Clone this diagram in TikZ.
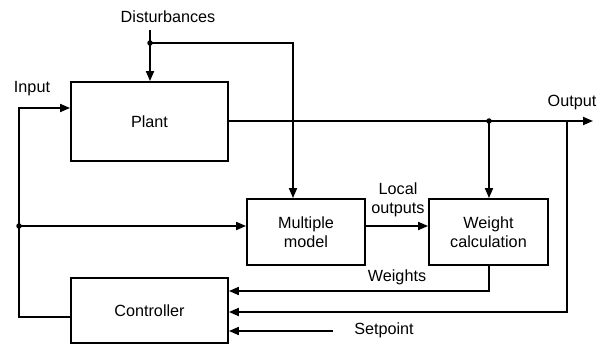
\documentclass[tikz,border=0pt]{standalone}
\usepackage{fontspec}
\setmainfont{Liberation Sans}
\usetikzlibrary{arrows.meta}
\begin{document}
\begin{tikzpicture}[x=1pt,y=-1pt,
  every node/.style={font=\fontsize{16.2}{19.5}\selectfont},
  blk/.style={draw,line width=1.8pt,inner sep=0pt,align=center},
  lbl/.style={inner sep=0pt,align=center},
  wire/.style={line width=1.8pt},
  arr/.style={wire,-{Triangle[length=10pt,width=8pt]}},
  jdot/.style={circle,fill,inner sep=0pt,minimum size=5.5pt}]
\useasboundingbox (0,0) rectangle (613,347);
% blocks
\node[blk,minimum width=157pt,minimum height=79pt] (plant) at (149.5,121.5) {Plant};
\node[blk,minimum width=118pt,minimum height=66pt] (mm) at (306,232) {Multiple\\model};
\node[blk,minimum width=119pt,minimum height=66pt] (wc) at (488.5,232) {Weight\\calculation};
\node[blk,minimum width=157pt,minimum height=65pt] (ctrl) at (149.5,310.5) {Controller};
% labels
\node[lbl] (dist) at (168,17) {Disturbances};
\node[lbl] (inlbl) at (32,89) {Input};
\node[lbl] (outlbl) at (572,103) {Output};
\node[lbl] (loclbl) at (398,200) {Local\\outputs};
\node[lbl] (wlbl) at (397,277) {Weights};
\node[lbl] (splbl) at (384,330) {Setpoint};
% coordinates
\coordinate (dtop) at (150,30);
\coordinate (dj) at (150,43);
\coordinate (dc) at (293,43);
\coordinate (inp) at (19,108);
\coordinate (cl) at (19,317);
\coordinate (ij) at (19,226);
\coordinate (oj) at (489,121);
\coordinate (oend) at (593,121);
\coordinate (fb) at (567,121);
\coordinate (fbc) at (567,312);
\coordinate (wb) at (489,291);
\coordinate (sp) at (333,331);
% disturbances
\draw[arr] (dtop) -- (dtop |- plant.north);
\draw[arr] (dj) -- (dc) -- (dc |- mm.north);
% input loop
\draw[arr] (ctrl.west |- cl) -- (cl) -- (inp) -- (inp -| plant.west);
\draw[arr] (ij) -- (ij -| mm.west);
% output
\draw[arr] (plant.east |- oj) -- (oend);
\draw[arr] (oj) -- (oj |- wc.north);
\draw[arr] (fb) -- (fbc) -- (fbc -| ctrl.east);
% local outputs
\draw[arr] (mm.east |- ij) -- (ij -| wc.west);
% weights
\draw[arr] (wc.south -| wb) -- (wb) -- (wb -| ctrl.east);
% setpoint
\draw[arr] (sp) -- (sp -| ctrl.east);
% dots
\node[jdot] (d1) at (dj) {};
\node[jdot] (d2) at (ij) {};
\node[jdot] (d3) at (oj) {};
\end{tikzpicture}
\end{document}
